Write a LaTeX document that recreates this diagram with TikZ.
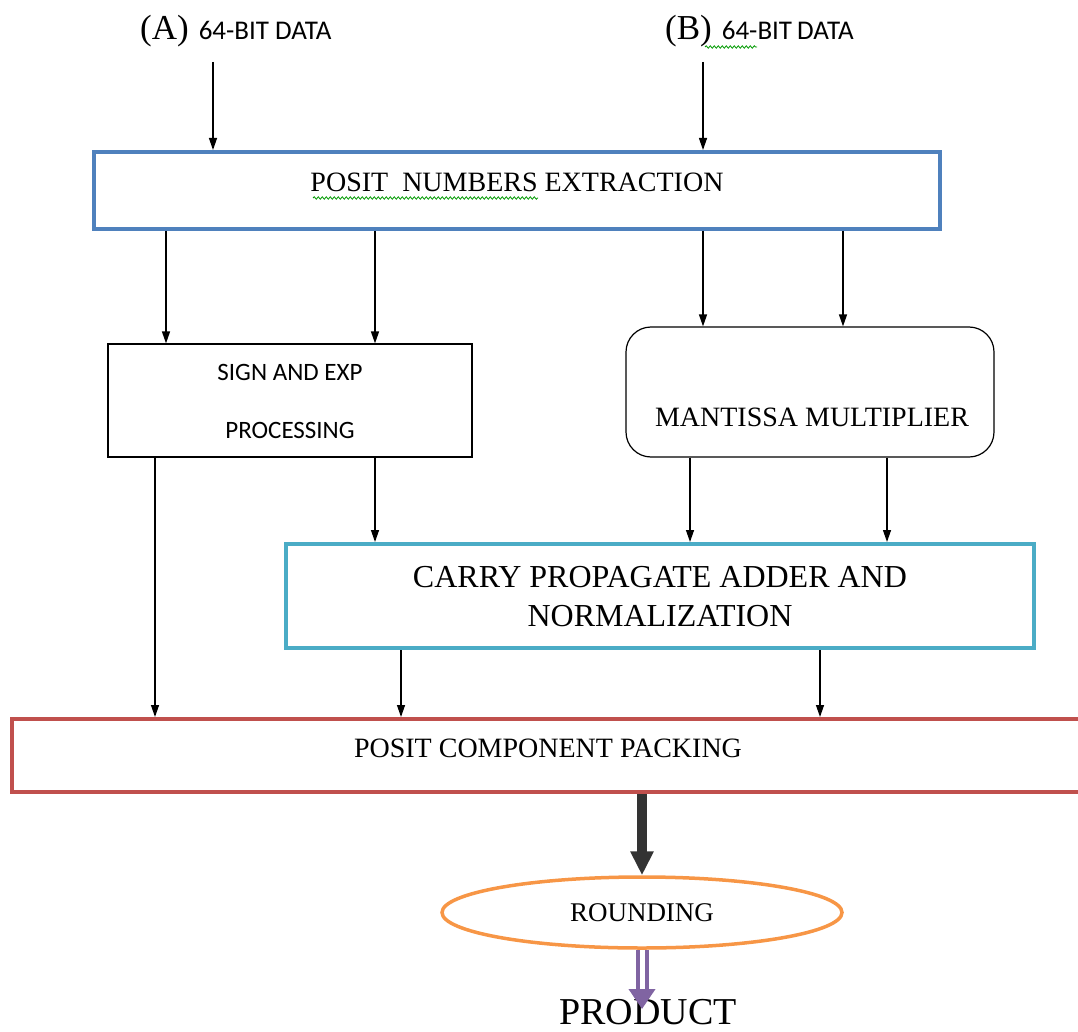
\documentclass[tikz,border=0pt]{standalone}
\usepackage{fontspec}
\setmainfont{Liberation Serif}
\newfontfamily\calibfont{Carlito}
\usetikzlibrary{arrows.meta,shapes.geometric,decorations.pathmorphing}
\definecolor{wblue}{HTML}{4F81BD}
\definecolor{wcyan}{HTML}{4BACC6}
\definecolor{wred}{HTML}{C0504D}
\definecolor{worange}{HTML}{F79646}
\definecolor{wpurple}{HTML}{8064A2}
\begin{document}
\begin{tikzpicture}[x=1pt,y=-1pt,
  arr/.style={line width=1.3pt,-{Triangle[length=12pt,width=8pt]}},
  boxthin/.style={draw=black,line width=1.2pt,rectangle,inner sep=0pt},
  boxthick/.style={rectangle,line width=4pt,inner sep=0pt},
  serif28/.style={font=\fontsize{28}{34}\selectfont,inner sep=0pt},
  sans25/.style={font=\calibfont\fontsize{25}{58}\selectfont,align=center,inner sep=0pt},
  squiggle/.style={draw=green!60!black,line width=0.8pt,decorate,decoration={snake,amplitude=1.2pt,segment length=4pt}}]
\useasboundingbox (0,0) rectangle (1078,1032);
\clip (0,0) rectangle (1078,1032);

% input labels
\node[anchor=base west,inner sep=0pt] (inA) at (140,40)
  {{\fontsize{35}{36}\selectfont (A)}\hspace{10pt}{\calibfont\fontsize{27}{30}\selectfont 64-BIT DATA}};
\node[anchor=base west,inner sep=0pt] (inB) at (665,40)
  {{\fontsize{35}{36}\selectfont (B)}\hspace{10pt}{\calibfont\fontsize{27}{30}\selectfont 64-BIT\kern-1pt\ DATA}};
\draw[squiggle] (705,47) -- (757,47);
\coordinate (a0) at (213,62);
\coordinate (b0) at (703,62);

% boxes
\node[boxthick,draw=wblue,minimum width=846pt,minimum height=77pt] (ext) at (517,190.5) {};
\node[serif28] (extT) at (517,182) {POSIT\ \ NUMBERS EXTRACTION};
\draw[squiggle] (313,198) -- (538,198);

\node[boxthin,minimum width=364pt,minimum height=113pt] (sig) at (290,400.5) {};
\node[sans25] (sigT) at (290,401) {SIGN AND EXP\\PROCESSING};

\node[boxthin,rounded corners=25pt,minimum width=368pt,minimum height=130pt] (mant) at (810,392) {};
\node[serif28] (mantT) at (812,417) {MANTISSA MULTIPLIER};

\node[boxthick,draw=wcyan,minimum width=748pt,minimum height=104pt] (cpa) at (660,596) {};
\node[font=\fontsize{32}{39}\selectfont,align=center,inner sep=0pt] (cpaT) at (660,597)
  {CARRY PROPAGATE ADDER AND\\NORMALIZATION};

\node[boxthick,draw=wred,minimum width=1078pt,minimum height=73pt] (pack) at (551,755.5) {};
\node[serif28] (packT) at (548,748) {POSIT COMPONENT PACKING};

\node[ellipse,draw=worange,line width=3.5pt,minimum width=400pt,minimum height=71pt,
  font=\fontsize{27}{30}\selectfont] (round) at (642,912.5) {ROUNDING};

\node[anchor=base,inner sep=0pt,font=\fontsize{38}{40}\selectfont] (prod) at (648,1024) {PRODUCT};
\coordinate (pend) at (642,1009);

% x positions of connectors
\coordinate (x166) at (166,0);
\coordinate (x375) at (375,0);
\coordinate (x843) at (843,0);
\coordinate (x155) at (155,0);
\coordinate (x690) at (690,0);
\coordinate (x887) at (887,0);
\coordinate (x401) at (401,0);
\coordinate (x820) at (820,0);

% connectors
\draw[arr] (a0) -- (a0 |- ext.north);
\draw[arr] (b0) -- (b0 |- ext.north);
\draw[arr] (ext.south -| x166) -- (sig.north -| x166);
\draw[arr] (ext.south -| x375) -- (sig.north -| x375);
\draw[arr] (ext.south -| b0) -- (mant.north -| b0);
\draw[arr] (ext.south -| x843) -- (mant.north -| x843);
\draw[arr] (sig.south -| x155) -- (pack.north -| x155);
\draw[arr] (sig.south -| x375) -- (cpa.north -| x375);
\draw[arr] (mant.south -| x690) -- (cpa.north -| x690);
\draw[arr] (mant.south -| x887) -- (cpa.north -| x887);
\draw[arr] (cpa.south -| x401) -- (pack.north -| x401);
\draw[arr] (cpa.south -| x820) -- (pack.north -| x820);

\draw[line width=10pt,draw=black!80,-{Triangle[length=24pt,width=22pt]}] (pack.south -| round.north) -- (round.north);
\draw[wpurple,line width=4pt,double=white,double distance=5pt,-{Triangle[length=20pt,width=26pt]}] (round.south) -- (pend);
\end{tikzpicture}
\end{document}
